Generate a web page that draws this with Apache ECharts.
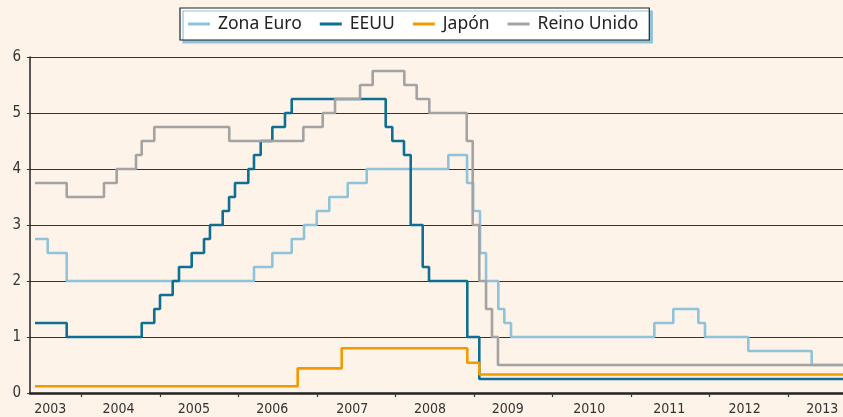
<!DOCTYPE html>
<html>
<head>
<meta charset="utf-8">
<script src="https://cdn.jsdelivr.net/npm/echarts@6/dist/echarts.min.js"></script>
<style>
    html, body { margin: 0; padding: 0; background: #fdf3e9; }
    #chart { width: 843px; height: 417px; }
</style>
</head>
<body>
<div id="chart"></div>
<script>
    // change points: [decimal year, rate] - each rate holds until the next point
    var euroRates = [
        [2003.405, 2.75], [2003.567, 2.5], [2003.809, 2.0], [2006.196, 2.25], [2006.430, 2.5],
        [2006.677, 2.75], [2006.834, 3.0], [2006.996, 3.25], [2007.156, 3.5], [2007.391, 3.75],
        [2007.633, 4.0], [2008.673, 4.25], [2008.912, 3.75], [2008.990, 3.25], [2009.077, 2.5],
        [2009.154, 2.0], [2009.310, 1.5], [2009.387, 1.25], [2009.472, 1.0], [2011.299, 1.25],
        [2011.541, 1.5], [2011.860, 1.25], [2011.945, 1.0], [2012.497, 0.75], [2013.305, 0.5],
        [2013.704, 0.5]
    ];
    var usRates = [
        [2003.405, 1.25], [2003.809, 1.0], [2004.765, 1.25], [2004.925, 1.5], [2004.998, 1.75],
        [2005.160, 2.0], [2005.240, 2.25], [2005.402, 2.5], [2005.559, 2.75], [2005.635, 3.0],
        [2005.797, 3.25], [2005.878, 3.5], [2005.954, 3.75], [2006.124, 4.0], [2006.196, 4.25],
        [2006.282, 4.5], [2006.430, 4.75], [2006.591, 5.0], [2006.677, 5.25], [2007.875, 4.75],
        [2007.959, 4.5], [2008.108, 4.25], [2008.194, 3.0], [2008.347, 2.25], [2008.427, 2.0],
        [2008.915, 1.0], [2009.068, 0.25], [2013.704, 0.25]
    ];
    var japanRates = [
        [2003.405, 0.12], [2006.753, 0.44], [2007.314, 0.8], [2008.915, 0.54], [2009.068, 0.33],
        [2013.704, 0.33]
    ];
    var ukRates = [
        [2003.405, 3.75], [2003.809, 3.5], [2004.284, 3.75], [2004.446, 4.0], [2004.692, 4.25],
        [2004.765, 4.5], [2004.925, 4.75], [2005.881, 4.5], [2006.825, 4.75], [2007.072, 5.0],
        [2007.229, 5.25], [2007.548, 5.5], [2007.709, 5.75], [2008.112, 5.5], [2008.270, 5.25],
        [2008.431, 5.0], [2008.908, 4.5], [2008.984, 3.0], [2009.068, 2.0], [2009.154, 1.5],
        [2009.230, 1.0], [2009.306, 0.5], [2013.704, 0.5]
    ];

    var seriesNames = ['Zona Euro', 'EEUU', 'Japón', 'Reino Unido'];
    var yearTicks = [2004, 2005, 2006, 2007, 2008, 2009, 2010, 2011, 2012, 2013];
    var yearLabelPos = [2003.6, 2004.47, 2005.43, 2006.43, 2007.45, 2008.44, 2009.43, 2010.47, 2011.49, 2012.45, 2013.44];

    var colors = ['#8fc3dc', '#0e6f93', '#f39a00', '#a3a3a3'];
    var axisFont = "'DejaVu Sans Condensed', 'Liberation Sans', sans-serif";

    function stepSeries(name, data, color) {
        return {
            name: name,
            type: 'line',
            step: 'end',
            data: data,
            showSymbol: false,
            symbol: 'none',
            silent: true,
            lineStyle: { color: color, width: 2.6 },
            itemStyle: { color: color }
        };
    }

    var chart = echarts.init(document.getElementById('chart'), null, {renderer: 'canvas'});
    chart.setOption({
        backgroundColor: '#fdf3e9',
        animation: false,
        legend: {
            left: 180,
            top: 8,
            padding: [7, 11, 7, 8],
            itemGap: 18,
            itemWidth: 22,
            itemHeight: 3,
            icon: 'rect',
            backgroundColor: '#ffffff',
            borderColor: '#222',
            borderWidth: 1.2,
            shadowColor: '#8fc3dc',
            shadowBlur: 0,
            shadowOffsetX: 3,
            shadowOffsetY: 3,
            textStyle: { fontFamily: "'Noto Sans', sans-serif", fontSize: 17.5, color: '#222', padding: [0, 0, 0, 3] },
            data: seriesNames
        },
        grid: { left: 30, right: 0, top: 57, bottom: 24, containLabel: false },
        xAxis: {
            type: 'value',
            min: 2003.341,
            max: 2013.704,
            axisLine: { show: true, lineStyle: { color: '#222', width: 2.5 } },
            axisTick: { show: true, customValues: yearTicks, length: 4, lineStyle: { color: '#333', width: 1.2 } },
            axisLabel: {
                customValues: yearLabelPos,
                formatter: function (v) { return String(Math.floor(v)); },
                fontFamily: axisFont,
                fontSize: 14,
                color: '#333',
                margin: 9
            },
            splitLine: { show: false }
        },
        yAxis: {
            type: 'value',
            min: 0,
            max: 6,
            interval: 1,
            axisLine: { show: true, lineStyle: { color: '#222', width: 1.5 } },
            axisTick: { show: true, length: 3, lineStyle: { color: '#333' } },
            axisLabel: { fontFamily: axisFont, fontSize: 15, color: '#333', margin: 9 },
            splitLine: { show: true, lineStyle: { color: '#333', width: 1.2 } }
        },
        series: [
            stepSeries(seriesNames[0], euroRates, colors[0]),
            stepSeries(seriesNames[1], usRates, colors[1]),
            stepSeries(seriesNames[2], japanRates, colors[2]),
            stepSeries(seriesNames[3], ukRates, colors[3])
        ]
    });
</script>
</body>
</html>
